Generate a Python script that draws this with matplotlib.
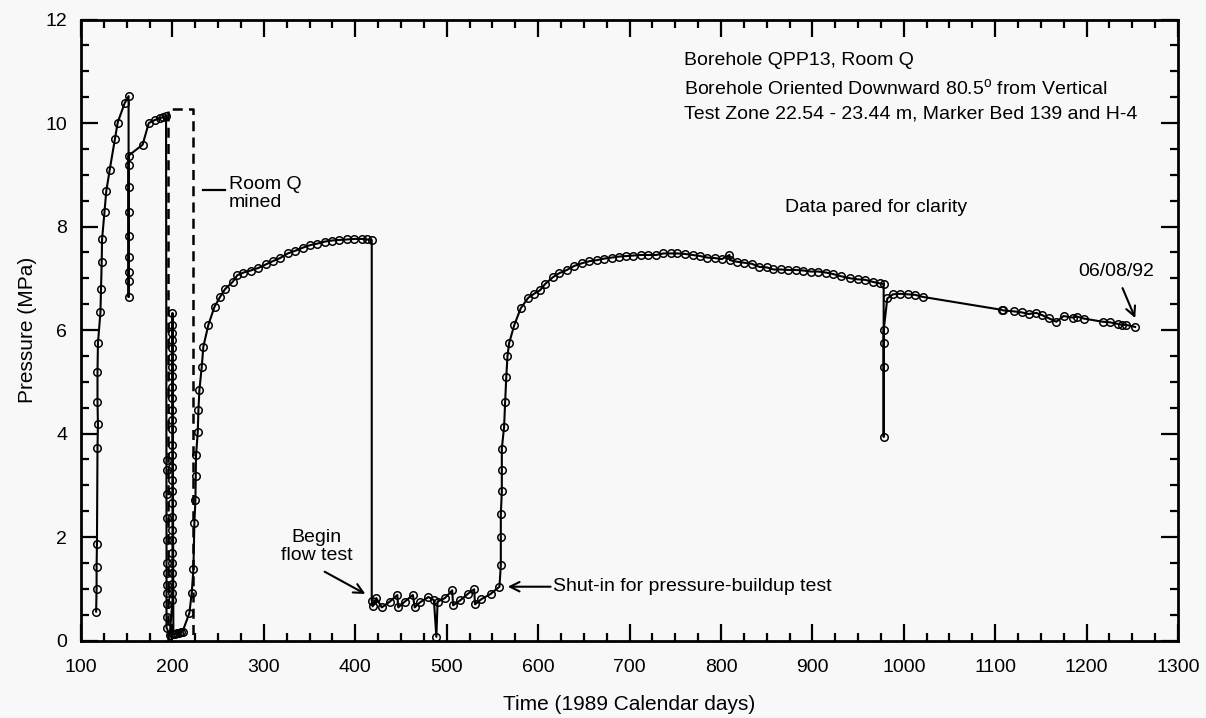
import matplotlib
matplotlib.use("Agg")
import matplotlib.pyplot as plt
from matplotlib.ticker import MultipleLocator

plt.rcParams['font.family'] = ['Liberation Sans', 'DejaVu Sans']

# Borehole QPP13 pressure record (day of 1989, MPa)
days_initial = [116.5, 117.0, 117.0, 117.4, 118.0, 118.5, 118.0, 118.0, 118.5, 121.2,
                121.9, 122.6, 123.0, 125.7, 127.6, 131.4, 137.1, 140.1, 147.6, 152.0]
pres_initial = [0.56, 1.00, 1.42, 1.86, 3.73, 4.18, 4.61, 5.18, 5.75, 6.34,
                6.80, 7.32, 7.75, 8.29, 8.68, 9.10, 9.70, 10.01, 10.38, 10.52]

days_test1 = [152.0, 152.0, 152.0, 152.0, 152.0, 152.0, 152.0, 152.0, 152.0,
              167.3, 174.1, 180.9, 186.0, 190.0, 193.0]
pres_test1 = [6.64, 6.95, 7.12, 7.42, 7.82, 8.29, 8.77, 9.18, 9.37,
              9.58, 10.00, 10.06, 10.09, 10.12, 10.14]

days_mining = [193.5] * 12 + [197.0] + [200.0] * 28 + [201.0, 203.0, 205.0, 207.0, 209.0, 211.0]
pres_mining = [3.49, 3.29, 2.84, 2.36, 1.94, 1.49, 1.30, 1.07, 0.92, 0.70, 0.45, 0.25,
               0.10,
               0.78, 0.91, 1.10, 1.30, 1.49, 1.69, 1.94, 2.14, 2.39, 2.65, 2.88, 3.10,
               3.36, 3.58, 3.78, 4.08, 4.26, 4.45, 4.68, 4.90, 5.11, 5.29, 5.48, 5.65,
               5.81, 5.94, 6.10, 6.33,
               0.12, 0.13, 0.14, 0.15, 0.16, 0.17]

days_recovery1 = [218.5, 221.1, 222.9, 224.0, 225.1, 225.5, 225.8, 227.7, 228.4, 229.5,
                  232.0, 233.8, 239.3, 246.0, 252.1, 257.5, 265.9, 271.0, 277.6, 285.6,
                  294.0, 302.4, 309.7, 317.7, 326.1, 334.1, 342.5, 350.5, 358.5, 366.9,
                  374.3, 382.6, 390.7, 399.0, 407.1, 413.0, 418.0]
pres_recovery1 = [0.53, 0.92, 1.38, 2.28, 2.71, 3.17, 3.58, 4.03, 4.45, 4.85,
                  5.28, 5.68, 6.10, 6.45, 6.64, 6.79, 6.93, 7.06, 7.11, 7.15,
                  7.20, 7.27, 7.33, 7.39, 7.48, 7.53, 7.59, 7.64, 7.67, 7.71,
                  7.73, 7.74, 7.75, 7.76, 7.76, 7.75, 7.74]

days_flow = [418.0, 419.0, 423.0, 429.0, 437.6, 446.0, 447.0, 454.0, 463.0, 465.0,
             471.0, 480.0, 486.0, 488.7, 490.0, 498.0, 506.0, 507.0, 515.0, 523.0,
             530.0, 531.0, 538.0, 548.0, 557.7]
pres_flow = [0.77, 0.66, 0.82, 0.64, 0.75, 0.88, 0.64, 0.75, 0.88, 0.64,
             0.74, 0.84, 0.78, 0.07, 0.75, 0.82, 0.97, 0.68, 0.78, 0.90,
             0.99, 0.70, 0.80, 0.90, 1.04]

days_buildup = [559.2, 559.2, 559.2, 560.3, 560.3, 560.3, 562.8, 563.9, 565.2, 566.5,
                568.3, 574.0, 581.0, 589.0, 595.5, 602.2, 607.7, 616.1, 623.3, 631.4,
                639.7, 647.8, 656.1, 664.2, 672.2, 680.6, 688.9, 696.3, 704.3, 712.4,
                720.7, 729.1, 737.1, 745.1, 752.4, 760.8, 769.2, 777.2, 785.2, 793.6,
                800.9, 809.3, 810.0, 817.4, 825.4, 833.8, 842.1, 850.2, 857.4, 865.5,
                873.8, 882.3, 890.3, 898.4, 906.7, 915.1, 923.1, 931.2, 941.4, 949.4,
                957.8, 966.2, 974.2, 978.0]
pres_buildup = [1.46, 2.00, 2.44, 2.88, 3.29, 3.71, 4.13, 4.60, 5.10, 5.50,
                5.75, 6.10, 6.42, 6.62, 6.70, 6.77, 6.89, 7.02, 7.10, 7.16,
                7.24, 7.29, 7.33, 7.35, 7.38, 7.40, 7.42, 7.43, 7.44, 7.45,
                7.45, 7.45, 7.48, 7.48, 7.48, 7.47, 7.45, 7.43, 7.40, 7.39,
                7.37, 7.45, 7.35, 7.32, 7.30, 7.28, 7.22, 7.21, 7.17, 7.17,
                7.16, 7.16, 7.15, 7.13, 7.13, 7.11, 7.08, 7.04, 7.00, 6.98,
                6.97, 6.93, 6.90, 6.89]

days_late = [978.0, 978.0, 978.0, 978.0, 982.0, 988.1, 996.1, 1004.1, 1012.5, 1020.9,
             1107.3, 1108.5, 1120.8, 1129.2, 1136.5, 1144.9, 1151.1, 1158.4, 1166.8, 1174.8,
             1185.0, 1189.4, 1197.4, 1217.8, 1225.1, 1233.8, 1238.6, 1243.3, 1253.1]
pres_late = [3.94, 5.28, 5.75, 6.00, 6.61, 6.69, 6.70, 6.69, 6.68, 6.64,
             6.39, 6.38, 6.36, 6.34, 6.31, 6.33, 6.29, 6.23, 6.16, 6.27,
             6.24, 6.26, 6.22, 6.16, 6.15, 6.12, 6.10, 6.10, 6.06]

days = (days_initial + days_test1 + days_mining + days_recovery1 + days_flow
        + days_buildup + days_late)
pressure = (pres_initial + pres_test1 + pres_mining + pres_recovery1 + pres_flow
            + pres_buildup + pres_late)

# Mining interval of Room Q
mined_start, mined_end, mined_top = 195.0, 222.0, 10.27

bg = '#f8f8f8'
fs = 14
fig = plt.figure(figsize=(12.06, 7.18), dpi=100, facecolor=bg)
ax = fig.add_axes([0.0672, 0.1079, 0.9096, 0.8649], facecolor=bg)

ax.plot(days, pressure, '-', color='black', lw=1.5, zorder=3)
ax.plot(days, pressure, 'o', mfc='none', mec='black', ms=5.4, mew=1.1, zorder=4)

ax.plot([mined_start, mined_start, mined_end, mined_end], [0, mined_top, mined_top, 0],
        color='black', lw=1.8, ls=(0, (4, 2.5)), zorder=2)
ax.plot([233.5, 258.0], [8.70, 8.70], color='black', lw=1.6)
ax.text(261.5, 8.64, 'Room Q\nmined', fontsize=fs, ha='left', va='center', linespacing=1.05)

ax.set_xlim(100, 1300)
ax.set_ylim(0, 12)
ax.xaxis.set_major_locator(MultipleLocator(100))
ax.xaxis.set_minor_locator(MultipleLocator(25))
ax.yaxis.set_major_locator(MultipleLocator(2))
ax.yaxis.set_minor_locator(MultipleLocator(0.5))
ax.tick_params(which='both', direction='in', top=True, right=True, width=1.6, labelsize=fs)
ax.tick_params(which='major', length=12, pad=10)
ax.tick_params(which='minor', length=6)
ax.tick_params(axis='x', which='major', pad=13)
for s in ax.spines.values():
    s.set_linewidth(2.0)

ax.set_xlabel('Time (1989 Calendar days)', fontsize=15, labelpad=14)
ax.set_ylabel('Pressure (MPa)', fontsize=15, labelpad=6)

ax.text(759.7, 11.20, 'Borehole QPP13, Room Q', fontsize=fs, ha='left', va='center')
ax.text(759.7, 10.67, 'Borehole Oriented Downward 80.5$^{\\mathregular{o}}$ from Vertical',
        fontsize=fs, ha='left', va='center')
ax.text(759.7, 10.17, 'Test Zone 22.54 - 23.44 m, Marker Bed 139 and H-4',
        fontsize=fs, ha='left', va='center')
ax.text(870.2, 8.36, 'Data pared for clarity', fontsize=fs, ha='left', va='center')

arrow = dict(arrowstyle='->', color='black', lw=1.5, mutation_scale=17, shrinkA=0, shrinkB=0)
ax.annotate('', xy=(411.0, 0.90), xytext=(366.5, 1.33), arrowprops=arrow)
ax.text(357.6, 1.82, 'Begin\nflow test', fontsize=fs, ha='center', va='center',
        linespacing=1.1)
ax.annotate('Shut-in for pressure-buildup test', xy=(566.8, 1.04), xytext=(616.7, 1.04),
            fontsize=fs, ha='left', va='center', arrowprops=arrow)
ax.annotate('', xy=(1253.2, 6.23), xytext=(1239.3, 6.81), arrowprops=arrow)
ax.text(1232.3, 7.13, '06/08/92', fontsize=fs, ha='center', va='center')

fig.savefig('out.png', dpi=100, facecolor=bg)
